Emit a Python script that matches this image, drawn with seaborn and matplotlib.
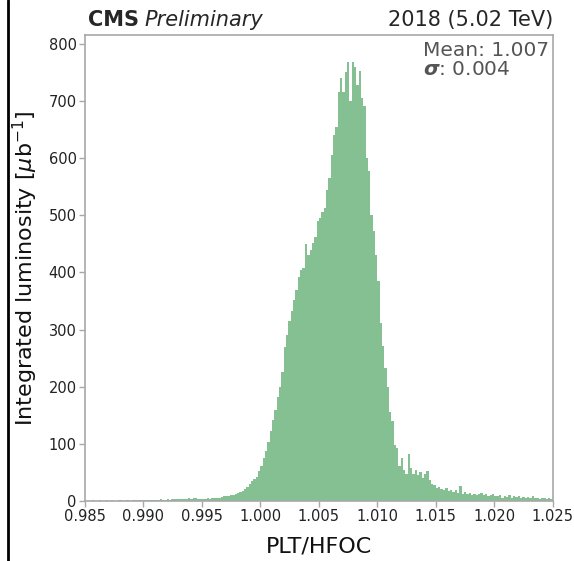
"""
Ratio histogram PLT/HFOC, 2018 (5.02 TeV) - CMS style.
"""

import numpy as np
import pandas as pd
import matplotlib
matplotlib.use("Agg")
import matplotlib.pyplot as plt
from matplotlib.lines import Line2D
import seaborn as sns

# bin layout of the histogram
bin_lo = 0.985
bin_hi = 1.025
bin_width = 0.0002

# integrated luminosity per bin [ub^-1] (0.985 -> 1.025)
lumi_tail_left = [
    0, 0, 0, 1, 0, 0, 1, 0, 0, 1, 0, 1, 0, 0, 1, 1, 0, 1, 1, 0, 1, 1, 1, 2, 1,
    1, 2, 1, 2, 2, 1, 2, 3, 2, 2, 3, 2, 3, 3, 4, 3, 4, 4, 3, 5, 4, 5, 5, 4, 4,
]
lumi_core = [
    4, 4, 5, 4, 5, 6, 5, 6, 7, 8, 8, 9, 10, 11, 12, 14, 15, 18, 21, 25,
    30, 35, 38, 42, 52, 62, 75, 88, 104, 122, 142, 160, 182, 200, 225, 270, 290, 315, 332, 352,
    370, 392, 404, 408, 450, 430, 440, 452, 462, 490, 496, 506, 512, 545, 565, 605, 640, 655, 716, 740,
    715, 750, 768, 700, 768, 760, 728, 752, 705, 692, 600, 578, 500, 472, 430, 385, 312, 272, 232, 200,
    155, 140, 98, 92, 62, 76, 55, 48, 82, 58, 48, 54, 46, 50, 40, 48, 52, 36, 30, 28,
]
lumi_tail_right = [
    22, 24, 21, 20, 23, 18, 20, 16, 19, 14, 26, 13, 15, 12, 14, 11, 13, 10, 12, 14,
    10, 12, 9, 11, 13, 8, 9, 10, 6, 9, 7, 10, 6, 8, 7, 9, 6, 7, 5, 7,
    6, 8, 5, 6, 4, 6, 5, 4, 5, 3,
]

mean_label = "Mean: 1.007"
sigma_label = r"$\boldsymbol{\sigma}$: 0.004"


def make_plot():
    lumi = lumi_tail_left + lumi_core + lumi_tail_right
    n_bins = len(lumi)
    centers = bin_lo + bin_width * (np.arange(n_bins) + 0.5)
    df = pd.DataFrame({"ratio": centers, "lumi": lumi})

    sns.set_style("ticks")
    plt.rcParams["font.family"] = ["DejaVu Sans"]
    plt.rcParams["mathtext.fontset"] = "dejavusans"

    fig = plt.figure(figsize=(5.74, 5.61), dpi=100)
    ax = fig.add_axes([0.148, 0.107, 0.815, 0.831])

    sns.histplot(
        data=df, x="ratio", weights="lumi", bins=n_bins,
        binrange=(bin_lo, bin_hi),
        color="#55a868", alpha=0.72, linewidth=0, ax=ax,
    )

    ax.set_xlim(bin_lo, bin_hi)
    ax.set_ylim(0, 816)
    xt = [0.985, 0.990, 0.995, 1.000, 1.005, 1.010, 1.015, 1.020, 1.025]
    ax.set_xticks(xt)
    ax.set_xticklabels([f"{t:.3f}" for t in xt])
    ax.set_yticks(range(0, 801, 100))

    grey = "#a8a8a8"
    for sp in ax.spines.values():
        sp.set_color(grey)
        sp.set_linewidth(1.2)
    ax.tick_params(axis="both", colors=grey, labelcolor="#222222",
                   labelsize=10.5, length=4, width=1, pad=2)

    ax.set_xlabel("PLT/HFOC", fontsize=16, labelpad=9, color="#111111")
    ax.set_ylabel(r"Integrated luminosity [$\mu$b$^{-1}$]", fontsize=16,
                  labelpad=6, color="#111111")

    cms = ax.text(0.006, 1.018, "CMS", transform=ax.transAxes, fontsize=15,
                  fontweight="bold", ha="left", va="baseline")
    ax.annotate("Preliminary", xy=(1, 0), xycoords=cms, xytext=(4, 0),
                textcoords="offset points", fontsize=15, style="italic",
                ha="left", va="bottom")
    ax.text(1.0, 1.018, "2018 (5.02 TeV)", transform=ax.transAxes,
            fontsize=15, ha="right", va="baseline")

    ax.text(0.722, 0.987, mean_label + "\n" + sigma_label, transform=ax.transAxes,
            fontsize=14.5, color="#555555", ha="left", va="top", linespacing=1.0)

    # left border line of the original screenshot
    fig.add_artist(Line2D([8 / 574, 8 / 574], [0, 1], color="black", lw=2))

    fig.savefig("out.png", dpi=100)
    plt.close(fig)


if __name__ == "__main__":
    make_plot()
